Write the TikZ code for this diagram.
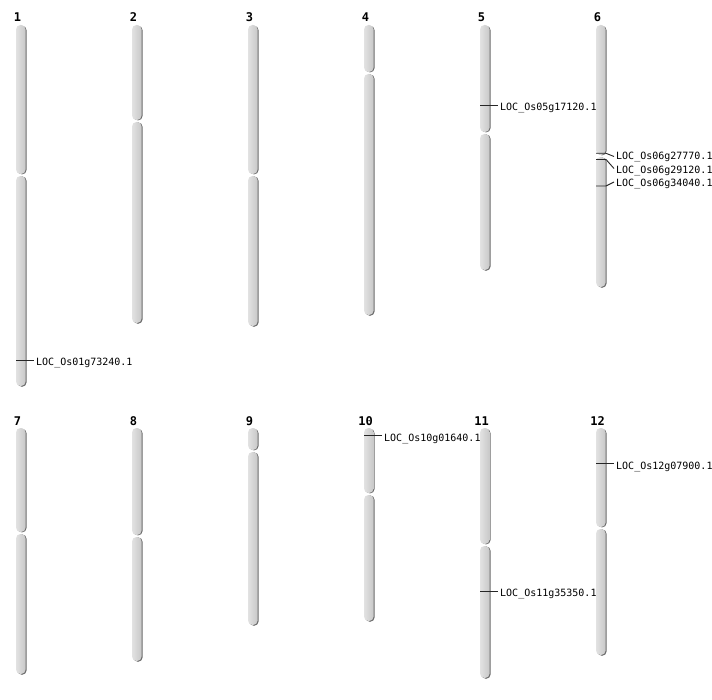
\documentclass[tikz,border=0pt]{standalone}
\usepackage{fontspec}
\newfontfamily\monofont{DejaVu Sans Mono}
\definecolor{barL}{HTML}{E2E2E2}
\definecolor{barR}{HTML}{C8C8C8}
\definecolor{barS}{HTML}{6A6A6A}
\newcommand\chromosome[6]{% name, left x, top, cent, bottom, label
  \fill[armshadow] (#2+1.4,#3+0.8) rectangle (#2+10.6,#4-0.6);
  \fill[armshadow] (#2+1.4,#4+1.4) rectangle (#2+10.6,#5+0.8);
  \path[arm] (#2,#3) rectangle (#2+9.6,#4-1);
  \path[arm] (#2,#4+1) rectangle (#2+9.6,#5);
  \coordinate (#1top) at (#2+4.8,#3);
  \node[chromlabel] (#1lab) at (#2+1.5,#3-3) {#6};
}
\begin{document}
\begin{tikzpicture}[x=1pt,y=-1pt,
  arm/.style={rounded corners=4.5pt, left color=barL, right color=barR, draw=none},
  armshadow/.style={rounded corners=4.5pt, fill=barS},
  chromlabel/.style={font=\monofont\bfseries\fontsize{12}{13}\selectfont, inner sep=0, anchor=base},
  genelabel/.style={font=\monofont\fontsize{10}{12}\selectfont, inner sep=0, anchor=base west},
  marker/.style={draw=black!85, line width=0.9pt},
]
\useasboundingbox[fill=white] (0,0) rectangle (712,700);

\chromosome{c1}{16}{25}{175}{386}{1}
\chromosome{c2}{132}{25}{121}{323}{2}
\chromosome{c3}{248}{25}{175}{326}{3}
\chromosome{c4}{364}{25}{73}{315}{4}
\chromosome{c5}{480}{25}{133}{270}{5}
\chromosome{c6}{596}{25}{156}{287}{6}
\chromosome{c7}{16}{428}{533}{674}{7}
\chromosome{c8}{132}{428}{536}{661}{8}
\chromosome{c9}{248}{428}{451}{625}{9}
\chromosome{c10}{364}{428}{494}{621}{10}
\chromosome{c11}{480}{428}{545}{678}{11}
\chromosome{c12}{596}{428}{528}{655}{12}

% chromosome 1
\coordinate (m1a) at (16,360.5);
\coordinate (e1a) at (34,360.5);
\draw[marker] (m1a) -- (e1a);
\node[genelabel] (g1a) at (36,366) {LOC\_Os01g73240.1};

% chromosome 5
\coordinate (m5a) at (480,105.5);
\coordinate (e5a) at (498,105.5);
\draw[marker] (m5a) -- (e5a);
\node[genelabel] (g5a) at (500,111) {LOC\_Os05g17120.1};

% chromosome 6
\coordinate (m6a) at (596,153.3);
\coordinate (k6a) at (606,153.3);
\coordinate (e6a) at (614,156.5);
\draw[marker] (m6a) -- (k6a) -- (e6a);
\node[genelabel] (g6a) at (616,160) {LOC\_Os06g27770.1};

\coordinate (m6b) at (596,159.5);
\coordinate (k6b) at (606,159.5);
\coordinate (e6b) at (614,168.5);
\draw[marker] (m6b) -- (k6b) -- (e6b);
\node[genelabel] (g6b) at (616,173.3) {LOC\_Os06g29120.1};

\coordinate (m6c) at (596,186);
\coordinate (k6c) at (606,186);
\coordinate (e6c) at (614,182);
\draw[marker] (m6c) -- (k6c) -- (e6c);
\node[genelabel] (g6c) at (616,186.6) {LOC\_Os06g34040.1};

% chromosome 10
\coordinate (m10a) at (364,435.5);
\coordinate (e10a) at (382,435.5);
\draw[marker] (m10a) -- (e10a);
\node[genelabel] (g10a) at (384,441) {LOC\_Os10g01640.1};

% chromosome 11
\coordinate (m11a) at (480,591);
\coordinate (e11a) at (498,591);
\draw[marker] (m11a) -- (e11a);
\node[genelabel] (g11a) at (500,596.5) {LOC\_Os11g35350.1};

% chromosome 12
\coordinate (m12a) at (596,463.5);
\coordinate (e12a) at (614,463.5);
\draw[marker] (m12a) -- (e12a);
\node[genelabel] (g12a) at (616,469) {LOC\_Os12g07900.1};
\end{tikzpicture}
\end{document}
